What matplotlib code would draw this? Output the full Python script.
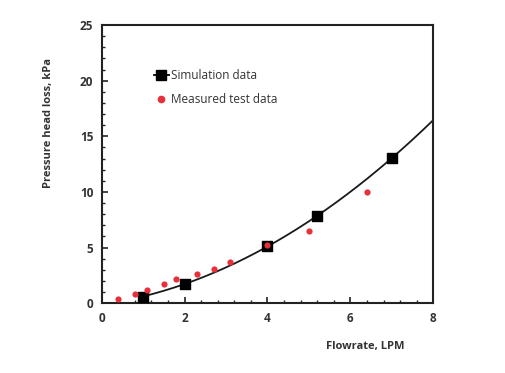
import numpy as np
import matplotlib
matplotlib.use("Agg")
import matplotlib.pyplot as plt
from matplotlib.ticker import MultipleLocator
from matplotlib.lines import Line2D

# Data
sim_x = [1.0, 2.0, 4.0, 5.2, 7.0]
sim_y = [0.6, 1.75, 5.1, 7.85, 13.05]
meas_x = [0.4, 0.8, 1.1, 1.5, 1.8, 2.3, 2.7, 3.1, 4.0, 5.0, 6.4]
meas_y = [0.4, 0.8, 1.2, 1.7, 2.2, 2.6, 3.1, 3.7, 5.2, 6.5, 10.0]
x_ticks = [0, 2, 4, 6, 8]
y_ticks = [0, 5, 10, 15, 20, 25]

plt.rcParams['font.family'] = ['Open Sans', 'DejaVu Sans']

fig = plt.figure(figsize=(5.05, 3.73), dpi=100)
ax = fig.add_axes([0.2014, 0.187, 0.6566, 0.746])

# smooth trend curve through the simulation data (quadratic fit), extended to x=8
coef = np.polyfit(sim_x, sim_y, 2)
cx = np.linspace(min(sim_x), x_ticks[-1], 200)
ax.plot(cx, np.polyval(coef, cx), color='#1a1a1a', lw=1.3, zorder=2)

ax.scatter(sim_x, sim_y, marker='s', s=50, color='black', zorder=3)
ax.scatter(meas_x, meas_y, marker='o', s=20, color='#e8303a', zorder=4, linewidths=0)

ax.set_xlim(x_ticks[0], x_ticks[-1])
ax.set_ylim(y_ticks[0], y_ticks[-1])
ax.set_xticks(x_ticks)
ax.set_yticks(y_ticks)
ax.xaxis.set_minor_locator(MultipleLocator(0.4))
ax.yaxis.set_minor_locator(MultipleLocator(1))
ax.tick_params(which='both', direction='in', top=False, right=False, color='#222222')
ax.tick_params(which='major', length=4, width=1.2, labelsize=8.5, pad=6)
ax.tick_params(which='minor', length=2.5, width=1.0)
for lab in ax.get_xticklabels() + ax.get_yticklabels():
    lab.set_fontweight('bold')
    lab.set_color('#333333')
for sp in ax.spines.values():
    sp.set_linewidth(1.5)
    sp.set_color('#222222')

fig.text(0.097, 0.67, 'Pressure head loss, kPa', rotation=90, ha='center', va='center',
         fontsize=8, fontweight='bold', color='#333333')
fig.text(0.723, 0.07, 'Flowrate, LPM', ha='center', va='center',
         fontsize=8, fontweight='bold', color='#333333')

# legend
h1 = Line2D([], [], color='black', marker='s', markersize=7, lw=1.3)
h2 = Line2D([], [], color='#e8303a', marker='o', markersize=4.5, lw=0)
leg = ax.legend([h1, h2], ['Simulation data', 'Measured test data'], loc='upper left',
                bbox_to_anchor=(0.125, 0.88), frameon=False, fontsize=8.5,
                handlelength=1.3, handletextpad=0.15, labelspacing=0.9)
for t in leg.get_texts():
    t.set_color('#333333')

fig.savefig('out.png', dpi=100)
